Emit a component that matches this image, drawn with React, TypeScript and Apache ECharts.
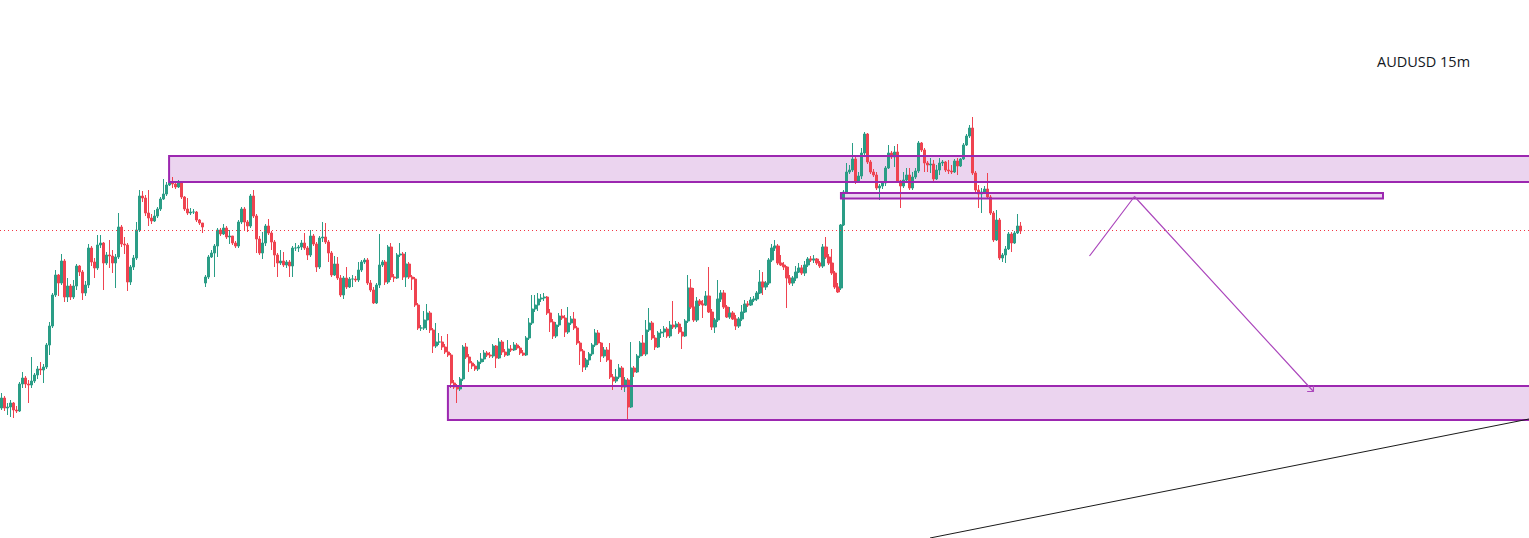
import React, { useEffect, useRef } from "react";
import * as echarts from "echarts";

// AUDUSD 15m candles, prices in points (1 point = 0.00001)
const opens = [
  65592,65602,65592,65593,65597,65590,65589,65616,65622,65616,
  65615,65619,65625,65631,65630,65633,65655,65674,65705,65725,
  65717,65739,65703,65714,65703,65714,65734,65728,65707,65715,
  65752,65738,65732,65755,65757,65737,65745,65744,65737,65743,
  65773,65756,65755,65718,65733,65742,65770,65804,65802,65787,
  65782,65779,65784,65791,65801,65806,65815,65817,65816,65813,
  65817,65803,65791,65787,65788,65788,65780,65777,65717,65723,
  65743,65747,65754,65770,65766,65772,65763,65764,65757,65754,
  65778,65791,65778,65774,65804,65784,65761,65747,65757,65774,
  65767,65758,65745,65737,65739,65735,65738,65734,65752,65752,
  65753,65757,65752,65745,65764,65756,65733,65762,65763,65758,
  65747,65725,65736,65722,65705,65722,65713,65721,65721,65720,
  65730,65738,65740,65717,65710,65697,65715,65735,65738,65718,
  65753,65723,65722,65745,65746,65723,65736,65723,65721,65695,
  65672,65672,65680,65687,65670,65654,65658,65658,65653,65648,
  65645,65617,65613,65611,65621,65653,65643,65637,65634,65631,
  65638,65641,65647,65645,65644,65654,65642,65658,65648,65645,
  65651,65650,65655,65652,65647,65645,65662,65677,65691,65695,
  65701,65702,65703,65687,65678,65664,65675,65684,65682,65668,
  65677,65681,65672,65657,65649,65633,65640,65646,65655,65667,
  65657,65644,65650,65640,65623,65619,65623,65632,65613,65620,
  65593,65632,65628,65644,65657,65646,65670,65677,65662,65653,
  65667,65668,65671,65664,65675,65673,65676,65668,65664,65679,
  65712,65693,65680,65699,65696,65695,65704,65688,65673,65680,
  65701,65707,65693,65683,65687,65681,65674,65681,65688,65696,
  65695,65700,65701,65707,65718,65713,65717,65740,65752,65754,
  65737,65735,65733,65722,65717,65722,65728,65732,65727,65735,
  65741,65740,65741,65737,65734,65753,65743,65737,65727,65713,
  65712,65775,65808,65828,65830,65841,65818,65824,65847,65866,
  65838,65828,65825,65812,65814,65817,65832,65847,65843,65848,
  65819,65814,65820,65825,65812,65823,65829,65857,65850,65837,
  65835,65836,65821,65830,65837,65838,65830,65829,65828,65839,
  65834,65841,65855,65864,65872,65827,65810,65806,65808,65811,
  65803,65787,65760,65780,65742,65745,65751,65766,65757,65767,65774,
];

const closes = [
  65602,65592,65593,65597,65590,65589,65616,65622,65616,65615,
  65619,65625,65631,65630,65633,65655,65674,65705,65725,65717,
  65739,65703,65714,65703,65714,65734,65728,65707,65715,65752,
  65738,65732,65755,65757,65737,65745,65744,65737,65743,65773,
  65756,65755,65718,65733,65742,65770,65804,65802,65787,65782,
  65779,65784,65791,65801,65806,65815,65817,65816,65813,65817,
  65803,65791,65787,65788,65788,65780,65777,65773,65723,65743,
  65747,65754,65770,65766,65772,65763,65764,65757,65754,65778,
  65791,65778,65774,65804,65784,65761,65747,65757,65774,65767,
  65758,65745,65737,65739,65735,65738,65734,65752,65752,65753,
  65757,65752,65745,65764,65756,65733,65762,65763,65758,65747,
  65725,65736,65722,65705,65722,65713,65721,65721,65720,65730,
  65738,65740,65717,65710,65697,65715,65735,65738,65718,65753,
  65723,65722,65745,65746,65723,65736,65723,65721,65695,65672,
  65672,65680,65687,65670,65654,65658,65658,65653,65648,65645,
  65617,65613,65611,65621,65653,65643,65637,65634,65631,65638,
  65641,65647,65645,65644,65654,65642,65658,65648,65645,65651,
  65650,65655,65652,65647,65645,65662,65677,65691,65695,65701,
  65702,65703,65687,65678,65664,65675,65684,65682,65668,65677,
  65681,65672,65657,65649,65633,65640,65646,65655,65667,65657,
  65644,65650,65640,65623,65619,65623,65632,65613,65620,65593,
  65632,65628,65644,65657,65646,65670,65677,65662,65653,65667,
  65668,65671,65664,65675,65673,65676,65668,65664,65679,65712,
  65693,65680,65699,65696,65695,65704,65688,65673,65680,65701,
  65707,65693,65683,65687,65681,65674,65681,65688,65696,65695,
  65700,65701,65707,65718,65713,65717,65740,65752,65754,65737,
  65735,65733,65722,65717,65722,65728,65732,65727,65735,65741,
  65740,65741,65737,65734,65753,65743,65737,65727,65713,65708,
  65775,65808,65828,65830,65841,65818,65824,65847,65866,65838,
  65828,65825,65812,65814,65817,65832,65847,65843,65848,65819,
  65814,65820,65825,65812,65823,65829,65857,65850,65837,65835,
  65836,65821,65830,65837,65838,65830,65829,65828,65839,65834,
  65841,65855,65864,65872,65827,65810,65806,65808,65811,65803,
  65787,65760,65780,65742,65745,65751,65766,65757,65767,65774,65769,
];

const highs = [
  65607,65604,65597,65600,65598,65594,65618,65628,65624,65620,
  65643,65627,65634,65638,65636,65657,65678,65707,65730,65726,
  65746,65741,65722,65716,65720,65736,65735,65730,65719,65756,
  65754,65742,65765,65765,65758,65748,65760,65750,65746,65787,
  65775,65763,65757,65735,65745,65778,65810,65809,65805,65810,
  65786,65790,65793,65803,65821,65818,65830,65823,65819,65820,
  65819,65804,65802,65792,65791,65789,65781,65777,65725,65745,
  65750,65756,65772,65772,65776,65774,65770,65764,65759,65780,
  65793,65793,65780,65806,65810,65786,65764,65768,65776,65781,
  65769,65760,65747,65750,65748,65740,65740,65754,65757,65755,
  65760,65767,65754,65770,65766,65758,65764,65778,65777,65760,
  65749,65744,65743,65725,65724,65733,65723,65725,65724,65738,
  65740,65742,65742,65720,65713,65717,65766,65740,65740,65755,
  65757,65726,65747,65757,65748,65748,65738,65725,65723,65697,
  65675,65689,65696,65689,65672,65677,65667,65664,65656,65666,
  65647,65620,65616,65623,65655,65657,65646,65639,65636,65640,
  65647,65650,65649,65648,65656,65655,65662,65660,65651,65660,
  65655,65658,65657,65654,65650,65664,65682,65705,65705,65707,
  65706,65707,65704,65691,65681,65678,65687,65691,65685,65693,
  65684,65688,65674,65659,65651,65642,65648,65657,65671,65670,
  65658,65653,65653,65657,65626,65631,65636,65634,65623,65622,
  65658,65634,65646,65659,65665,65680,65692,65679,65665,65669,
  65671,65674,65673,65679,65699,65679,65678,65673,65681,65725,
  65721,65712,65703,65701,65700,65709,65733,65691,65682,65720,
  65710,65710,65695,65693,65689,65685,65683,65695,65700,65699,
  65703,65704,65709,65730,65728,65719,65742,65756,65760,65756,
  65745,65738,65734,65725,65724,65734,65737,65735,65739,65743,
  65744,65745,65742,65739,65756,65763,65746,65751,65729,65717,
  65776,65810,65837,65835,65857,65844,65828,65852,65868,65867,
  65840,65831,65828,65816,65819,65834,65855,65849,65854,65856,
  65820,65828,65832,65832,65828,65832,65859,65858,65852,65839,
  65842,65840,65835,65842,65840,65839,65840,65835,65841,65842,
  65842,65857,65866,65875,65883,65829,65815,65812,65814,65827,
  65805,65789,65790,65782,65747,65754,65768,65768,65769,65786,65778,
];

const lows = [
  65590,65589,65585,65583,65582,65587,65588,65612,65612,65597,
  65612,65617,65621,65625,65617,65631,65645,65672,65703,65704,
  65715,65698,65698,65700,65701,65710,65724,65700,65704,65712,
  65734,65722,65730,65752,65710,65735,65732,65727,65712,65741,
  65753,65746,65709,65715,65730,65740,65768,65798,65784,65774,
  65776,65778,65782,65789,65800,65804,65814,65812,65811,65812,
  65801,65789,65785,65785,65786,65778,65775,65767,65713,65721,
  65742,65723,65743,65764,65765,65761,65756,65755,65752,65752,
  65776,65770,65768,65772,65782,65747,65745,65741,65754,65765,
  65750,65733,65723,65735,65733,65732,65723,65723,65749,65748,
  65750,65750,65740,65743,65754,65728,65731,65758,65756,65738,
  65723,65724,65720,65703,65701,65711,65712,65713,65718,65718,
  65728,65736,65715,65708,65696,65696,65712,65733,65715,65716,
  65720,65718,65721,65743,65720,65713,65721,65710,65693,65670,
  65669,65670,65670,65667,65647,65652,65655,65650,65646,65643,
  65612,65611,65597,65609,65619,65641,65628,65631,65629,65629,
  65636,65638,65643,65642,65642,65632,65641,65645,65643,65644,
  65648,65649,65650,65645,65644,65644,65660,65675,65688,65689,
  65698,65699,65685,65668,65661,65662,65673,65680,65663,65666,
  65675,65670,65655,65635,65628,65630,65635,65644,65653,65655,
  65638,65642,65638,65621,65610,65617,65621,65610,65608,65581,
  65592,65623,65627,65642,65644,65644,65668,65660,65650,65652,
  65662,65663,65662,65662,65671,65671,65666,65651,65663,65677,
  65691,65678,65678,65694,65682,65694,65687,65670,65667,65678,
  65698,65691,65682,65681,65680,65670,65672,65679,65687,65693,
  65694,65698,65699,65706,65705,65710,65715,65738,65749,65735,
  65734,65730,65692,65715,65714,65719,65727,65725,65724,65733,
  65738,65737,65735,65732,65732,65741,65735,65725,65711,65707,
  65710,65774,65806,65826,65828,65816,65817,65821,65845,65836,
  65826,65823,65810,65800,65811,65814,65831,65841,65833,65817,
  65792,65812,65817,65810,65810,65821,65827,65848,65828,65828,
  65827,65819,65820,65825,65834,65828,65826,65826,65827,65825,
  65833,65840,65854,65862,65825,65808,65792,65787,65806,65801,
  65785,65758,65759,65740,65738,65737,65750,65748,65756,65766,65766,
];

// Empty time slots to the right of the last candle (drawing space)
const SLOT_COUNT = 510;
const Y_MIN = 65462;
const Y_MAX = 66000;
const lastPrice = 65770;

// zones: [fromBar, toBar, topPrice, bottomPrice]
const zones = [
  [55.9, 511, 65844, 65818],
  [280.0, 460.8, 65807, 65801.5],
  [148.9, 511, 65614, 65580],
];
const arrowPath = [
  [362.9, 65744],
  [377.9, 65803.5],
  [437.6, 65608.5],
];
const arrowHead = [
  [435.5, 65608.5],
  [437.6, 65608.5],
  [437.6, 65614.5],
];
const trendLine = [
  [309.7, 65462],
  [509.5, 65581],
];
const titleText = "AUDUSD 15m";

const categories = Array.from({ length: SLOT_COUNT }, (_, i) => String(i));

const UP = "#2A9D86";
const DOWN = "#EF4350";
const ZONE_LINE = "#9C27B0";

export default function App() {
  const ref = useRef<HTMLDivElement>(null);

  useEffect(() => {
    if (!ref.current) return;
    const chart = echarts.init(ref.current, undefined, { renderer: "svg" });

    const candles = opens.map((o, i) => {
      const c = closes[i];
      return [o, c, Math.min(lows[i], o, c), Math.max(highs[i], o, c)];
    });

    const zoneRender = (fill: string, stroke: string, lineWidth: number) =>
      (params: any, api: any) => {
        const p0 = api.coord([api.value(0), api.value(2)]);
        const p1 = api.coord([api.value(1), api.value(3)]);
        return {
          type: "rect",
          shape: { x: p0[0], y: p0[1], width: p1[0] - p0[0], height: p1[1] - p0[1] },
          style: { fill, stroke, lineWidth },
        };
      };

    chart.setOption({
      animation: false,
      backgroundColor: "#ffffff",
      grid: { left: 0, right: 0, top: 0, bottom: 0, containLabel: false },
      xAxis: [
        { type: "category", data: categories, boundaryGap: true, show: false },
        { type: "value", min: -0.5, max: SLOT_COUNT - 0.5, show: false },
      ],
      yAxis: { type: "value", min: Y_MIN, max: Y_MAX, show: false, splitLine: { show: false } },
      graphic: [
        {
          type: "text",
          left: 1377,
          top: 54,
          style: {
            text: titleText,
            font: '14.5px "Open Sans", sans-serif',
            fill: "#131722",
          },
        },
      ],
      series: [
        {
          type: "custom",
          xAxisIndex: 1,
          z: 1,
          silent: true,
          data: zones,
          encode: { x: [0, 1], y: [2, 3] },
          renderItem: zoneRender("rgba(156,39,176,0.2)", "none", 0),
        },
        {
          type: "candlestick",
          xAxisIndex: 0,
          z: 2,
          barWidth: 2.6,
          silent: true,
          data: candles,
          itemStyle: {
            color: UP,
            color0: DOWN,
            borderColor: UP,
            borderColor0: DOWN,
            borderWidth: 1,
          },
          markLine: {
            silent: true,
            symbol: ["none", "none"],
            label: { show: false },
            lineStyle: { color: "#F23645", type: [1, 3], width: 1 },
            data: [{ yAxis: lastPrice }],
          },
        },
        {
          type: "custom",
          xAxisIndex: 1,
          z: 3,
          silent: true,
          data: zones,
          encode: { x: [0, 1], y: [2, 3] },
          renderItem: zoneRender("none", ZONE_LINE, 2),
        },
        {
          type: "line",
          xAxisIndex: 1,
          z: 4,
          silent: true,
          data: arrowPath,
          symbol: "none",
          lineStyle: { color: "#AB47BC", width: 1.2 },
        },
        {
          type: "line",
          xAxisIndex: 1,
          z: 4,
          silent: true,
          data: arrowHead,
          symbol: "none",
          lineStyle: { color: "#AB47BC", width: 1.2 },
        },
        {
          type: "line",
          xAxisIndex: 1,
          z: 4,
          silent: true,
          data: trendLine,
          symbol: "none",
          lineStyle: { color: "#1a1a1a", width: 1 },
        },
      ],
    });

    return () => chart.dispose();
  }, []);

  return (
    <div
      ref={ref}
      style={{ position: "fixed", left: 0, top: 0, width: 1529, height: 538, background: "#fff" }}
    />
  );
}
